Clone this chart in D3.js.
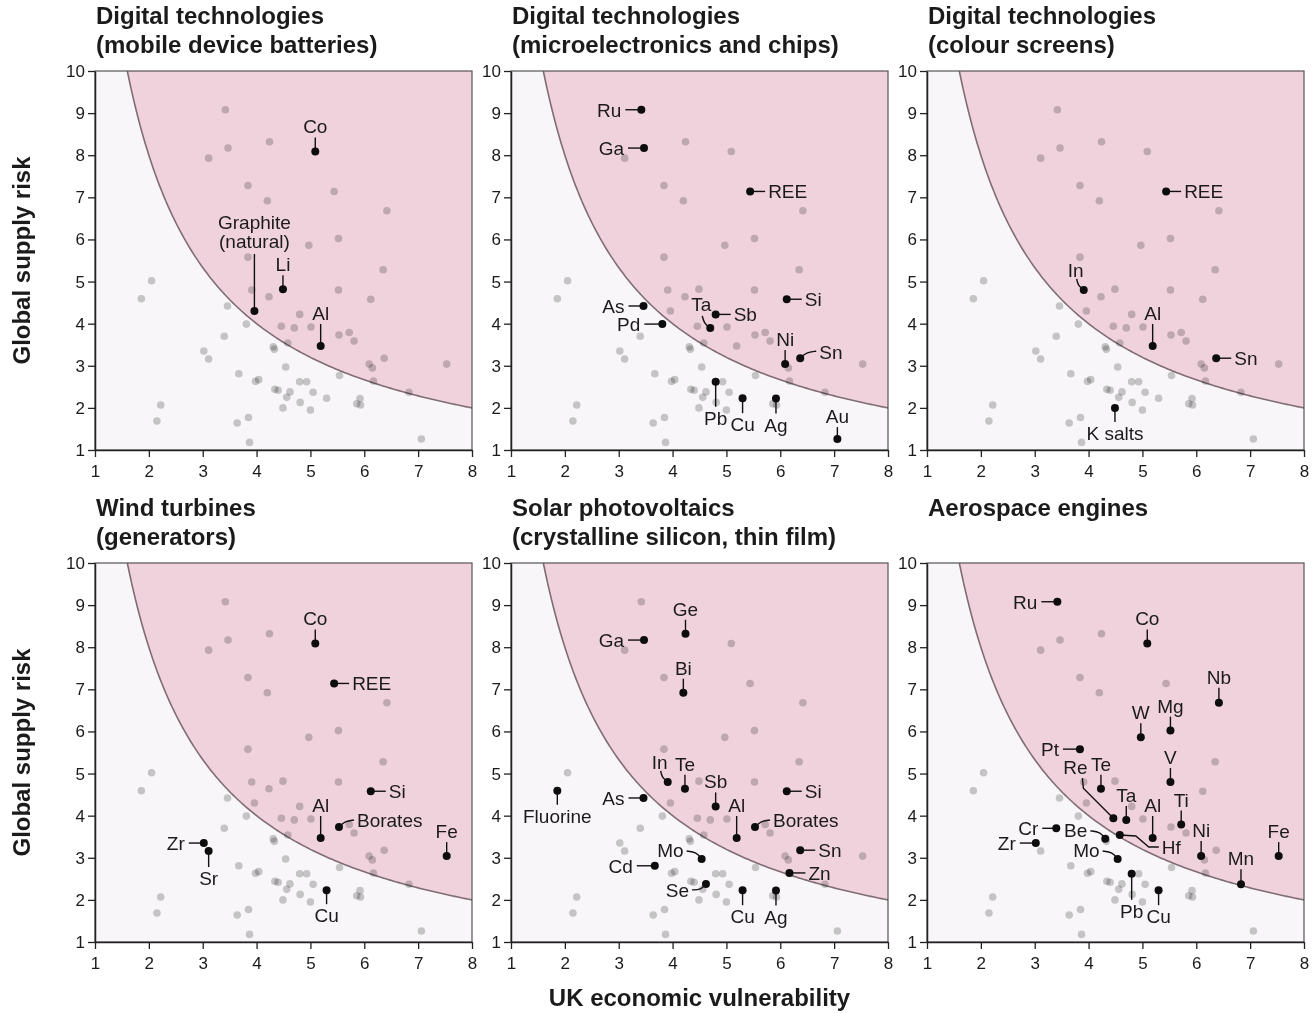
<!DOCTYPE html>
<html>
<head>
<meta charset="utf-8">
<script src="https://cdn.jsdelivr.net/npm/d3@7"></script>
<style>
  body { margin: 0; background: #ffffff; }
  text { font-family: "Liberation Sans", Arial, sans-serif; fill: #1b1b1b; }
  .tick text { font-size: 17px; }
  .panel_title { font-size: 24px; font-weight: bold; }
  .axis_title { font-size: 24px; font-weight: bold; }
  .callout { font-size: 19px; }
</style>
</head>
<body>
<div id="chart"></div>
<script>
const x_ticks = [1, 2, 3, 4, 5, 6, 7, 8];
const y_ticks = [1, 2, 3, 4, 5, 6, 7, 8, 9, 10];
// criticality threshold: vulnerability x supply risk
const critical_product = 16;

// every material, same cloud in each panel ('' = unlabelled)
const point_names = [
  'Ru', 'Ge', 'Ga', '', 'Co', '', 'REE', 'Bi', 'Nb', 'Mg',
  'W', 'Pt', '', '', 'Fluorine', 'In', 'Li', 'V', 'Te', 'Si',
  'As', 'Graphite', 'Sb', 'Pd', 'Re', 'Ta', '', 'Borates', 'Ti', '',
  'Hf', 'Cr', 'Zr', 'Sr', 'Be', '', 'Al', 'Sn', 'Ni', '',
  'Fe', 'Mo', 'Cd', '', '', '', 'Pb', '', 'Zn', '',
  '', 'Se', '', '', '', 'Cu', 'Ag', '', '', 'Mn',
  '', 'K salts', '', '', '', '', '', 'Au'
];
const uk_vulnerability = [
  3.42, 4.24, 3.47, 3.11, 5.09, 3.84, 5.44, 4.20, 6.42, 5.52,
  4.97, 3.84, 6.35, 2.05, 1.86, 3.91, 4.49, 5.52, 4.23, 6.12,
  3.46, 3.96, 4.80, 3.81, 4.46, 4.70, 5.01, 5.53, 5.72, 5.81,
  4.58, 3.40, 3.02, 3.11, 4.31, 4.33, 5.19, 6.37, 6.09, 6.15,
  7.53, 4.54, 3.67, 5.54, 3.98, 4.04, 4.80, 4.93, 6.17, 4.34,
  4.40, 4.62, 4.56, 5.05, 4.81, 5.30, 5.92, 5.86, 5.93, 6.83,
  2.22, 4.49, 5.00, 2.15, 3.64, 3.85, 3.87, 7.06
];
const supply_risk = [
  9.08, 8.32, 8.17, 7.93, 8.09, 7.28, 7.14, 6.92, 6.68, 6.02,
  5.86, 5.58, 5.28, 5.02, 4.59, 4.80, 4.82, 4.80, 4.64, 4.58,
  4.42, 4.30, 4.22, 3.99, 3.94, 3.90, 3.92, 3.73, 3.79, 3.59,
  3.54, 3.70, 3.35, 3.16, 3.45, 3.39, 3.47, 3.18, 3.04, 2.95,
  3.04, 2.97, 2.81, 2.77, 2.63, 2.67, 2.62, 2.62, 2.64, 2.44,
  2.42, 2.38, 2.25, 2.37, 2.13, 2.23, 2.22, 2.10, 2.07, 2.37,
  2.07, 2.00, 1.95, 1.69, 1.64, 1.77, 1.18, 1.26
];

const panel_titles = [
  ['Digital technologies', '(mobile device batteries)'],
  ['Digital technologies', '(microelectronics and chips)'],
  ['Digital technologies', '(colour screens)'],
  ['Wind turbines', '(generators)'],
  ['Solar photovoltaics', '(crystalline silicon, thin film)'],
  ['Aerospace engines']
];

// highlighted materials per panel, with where their label sits
const panel_callouts = [
  [up('Co', 14), up('Li', 14), up('Al', 22),
    { name: 'Graphite', text: 'Graphite\n(natural)', leader: [[0, 0], [0, -57]], tx: 0, ty: -82, anchor: 'middle' }],
  [left('Ru', 16), left('Ga', 16), right('REE', 15), left('As', 15), left('Pd', 18),
    bent('Ta', [[0, 0], [-6, -4], [-8, -12]], -9, -17, 'middle'),
    right('Sb', 15), right('Si', 15), up('Ni', 14),
    bent('Sn', [[0, 0], [6, -6], [16, -7]], 19, 1, 'start'),
    down('Pb', 25), down('Cu', 15), down('Ag', 15), up('Au', 12)],
  [right('REE', 15), bent('In', [[0, 0], [-6, -5], [-7, -11]], -8, -13, 'middle'),
    up('Al', 22), right('Sn', 15), down('K salts', 14)],
  [up('Co', 14), right('REE', 15), right('Si', 15), up('Al', 22),
    bent('Borates', [[0, 0], [6, -6], [15, -7]], 18, 0, 'start'),
    up('Fe', 14), left('Zr', 15), down('Sr', 16), down('Cu', 14)],
  [up('Ge', 14), left('Ga', 16), up('Bi', 14),
    bent('In', [[0, 0], [-6, -5], [-7, -11]], -8, -13, 'middle'),
    up('Te', 14), up('Sb', 14), up('Al', 22), right('Si', 15), left('As', 15),
    down('Fluorine', 14), bent('Borates', [[0, 0], [6, -6], [15, -7]], 18, 0, 'start'),
    right('Sn', 15), right('Zn', 16),
    bent('Mo', [[0, 0], [-5, -7], [-15, -8]], -18, -2, 'end'),
    left('Cd', 18), bent('Se', [[0, 0], [-5, 6], [-14, 6]], -17, 13, 'end'),
    down('Cu', 15), down('Ag', 15)],
  [left('Ru', 16), up('Co', 14), up('Nb', 15), up('W', 14), up('Mg', 14), left('Pt', 17),
    up('V', 14), up('Te', 14),
    { name: 'Re', leader: [[0, 0], [-30, -30], [-31, -40]], tx: -38, ty: -44, anchor: 'middle' },
    up('Ta', 14), up('Al', 22), up('Ti', 14), left('Cr', 14),
    bent('Be', [[0, 0], [-5, -7], [-15, -8]], -18, -2, 'end'),
    { name: 'Hf', leader: [[0, 0], [16, 1], [29, 12], [39, 12]], tx: 42, ty: 19, anchor: 'start' },
    left('Zr', 16), bent('Mo', [[0, 0], [-5, -7], [-15, -8]], -18, -2, 'end'),
    up('Ni', 15), up('Mn', 15), up('Fe', 14), down('Pb', 26), down('Cu', 15)]
];

function up(name, len) {
  return { name: name, leader: [[0, 0], [0, -len]], tx: 0, ty: -(len + 4), anchor: 'middle' };
}
function down(name, len) {
  return { name: name, leader: [[0, 0], [0, len]], tx: 0, ty: len + 18, anchor: 'middle' };
}
function left(name, len) {
  return { name: name, leader: [[0, 0], [-len, 0]], tx: -(len + 4), ty: 7, anchor: 'end' };
}
function right(name, len) {
  return { name: name, leader: [[0, 0], [len, 0]], tx: len + 3, ty: 7, anchor: 'start' };
}
function bent(name, leader, tx, ty, anchor) {
  return { name: name, leader: leader, tx: tx, ty: ty, anchor: anchor, curved: true };
}

const points = point_names.map(function (n, i) {
  return { name: n, x: uk_vulnerability[i], y: supply_risk[i] };
});

const svg_width = 1314;
const svg_height = 1013;
const plot_width = 377;
const plot_height = 379;
const col_left = [95, 511, 927];
const row_top = [71, 563];

const svg = d3.select('#chart')
  .append('svg')
  .attr('width', svg_width)
  .attr('height', svg_height);

function panel(options) {
  const callouts = options.callouts;
  const highlighted = new Set(callouts.map(d => d.name));

  const g = svg.append('g')
    .attr('transform', 'translate(' + options.left + ',' + options.top + ')');

  const x_scale = d3.scaleLinear().domain([1, 8]).range([0, plot_width]);
  const y_scale = d3.scaleLinear().domain([1, 10]).range([plot_height, 0]);

  g.append('rect')
    .attr('width', plot_width)
    .attr('height', plot_height)
    .attr('fill', '#f8f6f8');

  const x_start = critical_product / 10;
  const curve_x = d3.range(x_start, 8.0001, 0.04);
  const boundary = curve_x.map(v => ({ x: v, y: critical_product / v }));

  g.append('path')
    .datum(boundary)
    .attr('d', d3.area()
      .x(d => x_scale(d.x))
      .y0(d => y_scale(d.y))
      .y1(y_scale(10)))
    .attr('fill', '#f0d2dc');

  g.append('path')
    .datum(boundary)
    .attr('d', d3.line()
      .x(d => x_scale(d.x))
      .y(d => y_scale(d.y)))
    .attr('fill', 'none')
    .attr('stroke', '#7f6d73')
    .attr('stroke-width', 1.6);

  g.append('g')
    .selectAll('circle')
    .data(points.filter(d => !highlighted.has(d.name)))
    .enter()
    .append('circle')
    .attr('cx', d => x_scale(d.x))
    .attr('cy', d => y_scale(d.y))
    .attr('r', 3.8)
    .attr('fill', '#cbcbcb')
    .style('mix-blend-mode', 'multiply');

  const lookup = new Map(points.filter(d => d.name).map(d => [d.name, d]));
  const marks = callouts.map(function (c) {
    const p = lookup.get(c.name);
    return Object.assign({}, c, { px: x_scale(p.x), py: y_scale(p.y) });
  });

  const straight = d3.line();
  const rounded = d3.line().curve(d3.curveBasis);

  g.append('g')
    .selectAll('path')
    .data(marks)
    .enter()
    .append('path')
    .attr('d', function (d) {
      const pts = d.leader.map(o => [d.px + o[0], d.py + o[1]]);
      return d.curved ? rounded(pts) : straight(pts);
    })
    .attr('fill', 'none')
    .attr('stroke', '#111')
    .attr('stroke-width', 1.4);

  g.append('g')
    .selectAll('circle')
    .data(marks)
    .enter()
    .append('circle')
    .attr('cx', d => d.px)
    .attr('cy', d => d.py)
    .attr('r', 4)
    .attr('fill', '#0d0d0d');

  const labels = g.append('g')
    .selectAll('text')
    .data(marks)
    .enter()
    .append('text')
    .attr('class', 'callout')
    .attr('text-anchor', d => d.anchor)
    .attr('x', d => d.px + d.tx)
    .attr('y', d => d.py + d.ty);
  labels.each(function (d) {
    const lines = (d.text || d.name).split('\n');
    d3.select(this).selectAll('tspan')
      .data(lines)
      .enter()
      .append('tspan')
      .attr('x', d.px + d.tx)
      .attr('dy', (l, i) => i === 0 ? 0 : 19)
      .text(l => l);
  });

  g.append('rect')
    .attr('width', plot_width)
    .attr('height', plot_height)
    .attr('fill', 'none')
    .attr('stroke', '#555')
    .attr('stroke-width', 1.2);

  const y_axis = g.append('g')
    .call(d3.axisLeft(y_scale)
      .tickValues(y_ticks)
      .tickFormat(d3.format('d'))
      .tickSize(7)
      .tickSizeOuter(0)
      .tickPadding(3));

  const x_axis = g.append('g')
    .attr('transform', 'translate(0,' + plot_height + ')')
    .call(d3.axisBottom(x_scale)
      .tickValues(x_ticks)
      .tickFormat(d3.format('d'))
      .tickSize(7)
      .tickSizeOuter(0)
      .tickPadding(8));

  [y_axis, x_axis].forEach(function (a) {
    a.select('.domain').attr('stroke', '#222').attr('stroke-width', 1.5);
    a.selectAll('.tick line').attr('stroke', '#222').attr('stroke-width', 1.3);
    a.selectAll('.tick text').attr('fill', '#1b1b1b').style('font-size', '17px');
    a.attr('font-family', null).attr('font-size', null);
  });

  g.append('g')
    .selectAll('text')
    .data(options.title)
    .enter()
    .append('text')
    .attr('class', 'panel_title')
    .attr('x', 1)
    .attr('y', (d, i) => -47 + i * 29)
    .text(d => d);
}

panel_titles.forEach(function (title, i) {
  panel({
    left: col_left[i % 3],
    top: row_top[Math.floor(i / 3)],
    title: title,
    callouts: panel_callouts[i]
  });
});

row_top.forEach(function (top) {
  svg.append('text')
    .attr('class', 'axis_title')
    .attr('transform', 'translate(30,' + (top + plot_height / 2) + ') rotate(-90)')
    .attr('text-anchor', 'middle')
    .text('Global supply risk');
});

svg.append('text')
  .attr('class', 'axis_title')
  .attr('x', col_left[1] + plot_width / 2)
  .attr('y', 1006)
  .attr('text-anchor', 'middle')
  .text('UK economic vulnerability');
</script>
</body>
</html>
